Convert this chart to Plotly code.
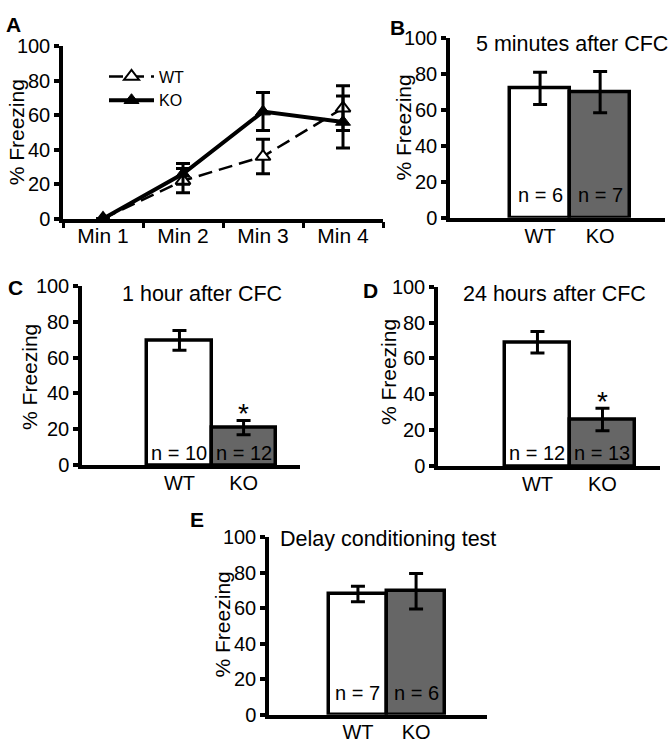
import plotly.graph_objects as go

W, H = 672, 750
FONT = "Liberation Sans, Arial, sans-serif"
GRAY = "#666666"

# ---------------- data ----------------
minutes = ["Min 1", "Min 2", "Min 3", "Min 4"]
wt_time = [0, 22, 36, 64]
wt_time_err = [None, 7, 10, 13]
ko_time = [0, 26, 62, 56]
ko_time_err = [None, 6, 11, 15]

groups = ["WT", "KO"]
b_vals = [72, 70]
b_err = [9, 11.5]
b_n = [6, 7]
c_vals = [69.5, 21]
c_err = [5.5, 4]
c_n = [10, 12]
d_vals = [69, 26]
d_err = [6, 6.3]
d_n = [12, 13]
e_vals = [68, 69.5]
e_err = [4.4, 10]
e_n = [7, 6]

titles = {"B": "5 minutes after CFC", "C": "1 hour after CFC",
          "D": "24 hours after CFC", "E": "Delay conditioning test"}
y_ticks = [0, 20, 40, 60, 80, 100]
ytitle = "% Freezing"


def px_x(p):
    return p / W


def px_y(p):
    return 1 - p / H


fig = go.Figure()

# ---------------- panel A (line) ----------------
fig.add_trace(go.Scatter(
    x=minutes, y=wt_time, name="WT", mode="lines+markers",
    line=dict(color="black", width=2.5, dash="14px,7px"),
    marker=dict(symbol="triangle-up", size=13, color="white",
                line=dict(color="black", width=2)),
    error_y=dict(type="data", array=wt_time_err, color="black",
                 thickness=3, width=7),
    cliponaxis=False, xaxis="x", yaxis="y"))
fig.add_trace(go.Scatter(
    x=minutes, y=ko_time, name="KO", mode="lines+markers",
    line=dict(color="black", width=4),
    marker=dict(symbol="triangle-up", size=13, color="black",
                line=dict(color="black", width=1)),
    error_y=dict(type="data", array=ko_time_err, color="black",
                 thickness=3, width=7),
    cliponaxis=False, xaxis="x", yaxis="y"))

# ---------------- bar panels ----------------
panels = [
    ("B", b_vals, b_err, b_n, "x2", "y2"),
    ("C", c_vals, c_err, c_n, "x3", "y3"),
    ("D", d_vals, d_err, d_n, "x4", "y4"),
    ("E", e_vals, e_err, e_n, "x5", "y5"),
]
for key, vals, errs, ns, xa, ya in panels:
    fig.add_trace(go.Bar(
        x=groups, y=vals, width=1, showlegend=False,
        marker=dict(color=["white", GRAY], line=dict(color="black", width=3.5)),
        error_y=dict(type="data", array=errs, color="black", thickness=3, width=7),
        xaxis=xa, yaxis=ya))

# ---------------- axes layout ----------------
axis_common = dict(showgrid=False, zeroline=False, showline=True,
                   linecolor="black", linewidth=3.5,
                   tickfont=dict(family=FONT, size=20, color="black"))

# pixel domains: (x0, x1, ybottom, ytop, xrange)
dom = {
    "A": (63, 383, 214, 36, [-0.5, 3.5]),
    "B": (450, 665, 213, 28, [-1.5, 2.08]),
    "C": (82, 300, 468, 283, [-1.52, 1.88]),
    "D": (438, 660, 469, 284, [-1.53, 1.885]),
    "E": (269, 487, 725, 542, [-1.53, 2.22]),
}
names = ["A", "B", "C", "D", "E"]
layout_axes = {}
for i, k in enumerate(names):
    x0, x1, yb, yt, xr = dom[k]
    sx = "" if i == 0 else str(i + 1)
    xa = dict(axis_common, domain=[px_x(x0), px_x(x1)], range=xr,
              anchor="y" + sx, type="category", ticks="", ticklen=0,
              ticklabelstandoff=-3, fixedrange=True)
    if k == "A":
        xa.update(ticks="outside", ticklen=6, tickwidth=3, tickcolor="black",
                  tickson="boundaries", ticklabelstandoff=-5,
                  tickfont=dict(family=FONT, size=21, color="black"))
    ya = dict(axis_common, domain=[px_y(yb), px_y(yt)], range=[0, 100],
              anchor="x" + sx, tickvals=y_ticks, ticks="outside", ticklen=5,
              tickwidth=3.5, tickcolor="black", fixedrange=True)
    layout_axes["xaxis" + sx] = xa
    layout_axes["yaxis" + sx] = ya

fig.update_layout(**layout_axes)

annotations = []
# panel letters
letters = {"A": (13, 14), "B": (397, 17), "C": (15, 285), "D": (370, 288), "E": (197, 524)}
for k, (lx, ly) in letters.items():
    annotations.append(dict(text="<b>%s</b>" % k, x=px_x(lx), y=px_y(ly),
                            xref="paper", yref="paper", showarrow=False,
                            xanchor="center", yanchor="middle",
                            font=dict(family=FONT, size=21, color="black")))
# y titles
ytitles = {"A": (16, 125), "B": (403, 120), "C": (30, 377), "D": (388, 372), "E": (222, 632)}
for k, (tx, ty) in ytitles.items():
    annotations.append(dict(text=ytitle, x=px_x(tx), y=px_y(ty), xref="paper",
                            yref="paper", showarrow=False, textangle=-90,
                            xanchor="center", yanchor="middle",
                            font=dict(family=FONT, size=21, color="black")))
# panel titles
tpos = {"B": (572, 34), "C": (202, 292), "D": (554, 292), "E": (388, 544)}
for k, (tx, ty) in tpos.items():
    annotations.append(dict(text=titles[k], x=px_x(tx), y=px_y(ty), xref="paper",
                            yref="paper", showarrow=False,
                            xanchor="center", yanchor="middle",
                            font=dict(family=FONT, size=21.5, color="black")))
# n labels and stars
n_y = {"B": 12.5, "C": 7, "D": 7.5, "E": 12.5}
for key, vals, errs, ns, xa, ya in panels:
    for g, n in zip(groups, ns):
        annotations.append(dict(text="n = %d" % n, x=g, y=n_y[key], xref=xa, yref=ya,
                                showarrow=False, xanchor="center", yanchor="middle",
                                font=dict(family=FONT, size=20, color="black")))
    if key in ("C", "D"):
        annotations.append(dict(text="*", x=groups[1], y=vals[1] + errs[1] + 3.6,
                                xref=xa, yref=ya, showarrow=False,
                                xanchor="center", yanchor="middle",
                                font=dict(family=FONT, size=28, color="black")))

fig.update_layout(
    width=W, height=H, autosize=False,
    margin=dict(l=0, r=0, t=0, b=0),
    paper_bgcolor="white", plot_bgcolor="white",
    bargap=0,
    showlegend=True,
    legend=dict(x=px_x(104), y=px_y(50), xanchor="left", yanchor="top",
                bgcolor="rgba(0,0,0,0)", itemwidth=45,
                font=dict(family=FONT, size=16, color="black"),
                tracegroupgap=0),
    annotations=annotations,
)

fig.write_html("out.html", config={"displayModeBar": False},
               post_script="document.body.style.margin='0';document.body.style.overflow='hidden';")
